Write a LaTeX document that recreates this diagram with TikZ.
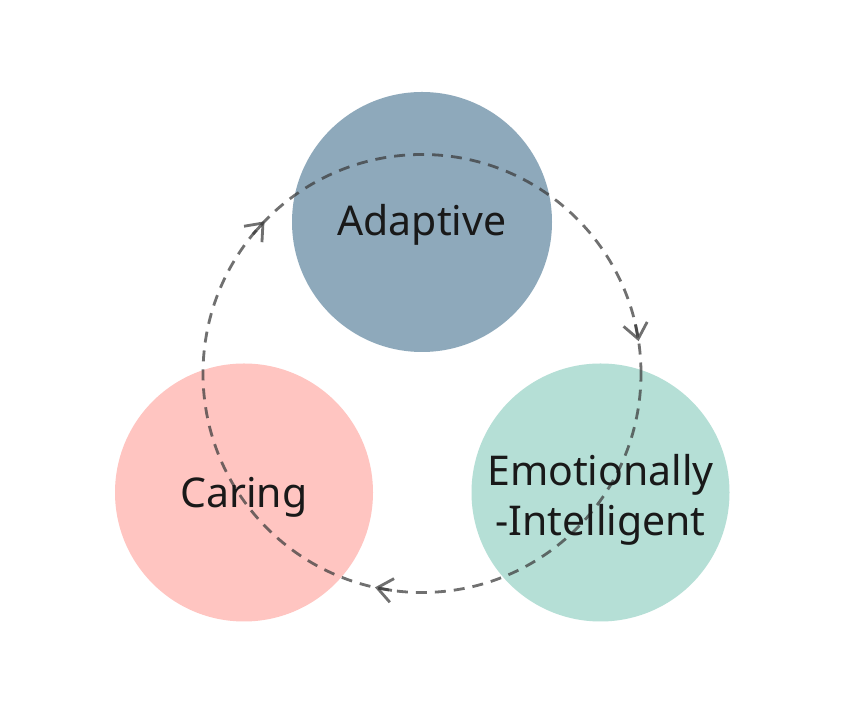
\documentclass[tikz,border=0pt]{standalone}
\usepackage{fontspec}
\setmainfont{Noto Sans}
\usetikzlibrary{arrows.meta,calc}
\definecolor{adaptc}{HTML}{8EA9BB}
\definecolor{caringc}{HTML}{FFC5C1}
\definecolor{emoc}{HTML}{B5DFD6}
\definecolor{dashc}{HTML}{3A3A3A}
\tikzset{
  bubble/.style={circle, draw=none, minimum size=#1, inner sep=0pt},
  cycleline/.style={draw=dashc, draw opacity=0.72, line width=2.8pt, dash pattern=on 11pt off 8pt},
  cycletip/.style={draw=dashc, draw opacity=0.72, line width=2.8pt, -{Straight Barb[length=15pt,width=24pt]}},
  lbl/.style={font=\fontsize{41}{50}\selectfont, text=black!90, align=center, inner sep=0pt}
}
\begin{document}
\begin{tikzpicture}[x=1pt,y=1pt]
\useasboundingbox (0,0) rectangle (852,722);
\fill[white] (0,0) rectangle (852,722);
\node[bubble=260pt, fill=adaptc] (adapt) at (422,500) {};
\node[bubble=258pt, fill=caringc] (caring) at (244,229.5) {};
\node[bubble=258pt, fill=emoc] (emo) at (600.5,229.5) {};
\coordinate (cyc) at (422,348.5);
\draw[cycleline] (cyc) circle[radius=219pt];
\foreach \a/\n in {136/ta,8.5/tb,257.6/tc}{
  \coordinate (\n) at ([shift={(cyc)}]\a:219pt);
  \coordinate (\n s) at ([shift={(cyc)}]\a+4.5:219pt);
  \draw[cycletip] (\n s) -- (\n);
}
\node[lbl] (tadapt) at ([yshift=-3pt]adapt.center) {Adaptive};
\node[lbl] (tcaring) at ([yshift=-5pt]caring.center) {Caring};
\node[lbl] (temo) at ([yshift=-7pt]emo.center) {Emotionally\\-Intelligent};
\end{tikzpicture}
\end{document}
